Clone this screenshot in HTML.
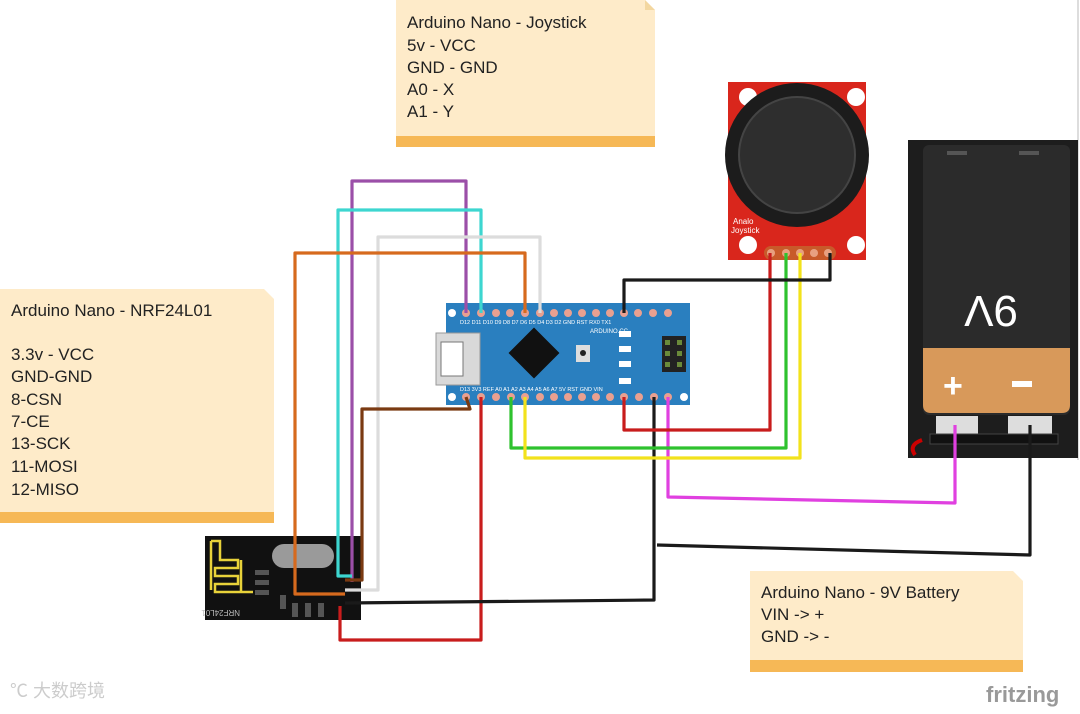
<!DOCTYPE html>
<html><head><meta charset="utf-8"><style>
body{margin:0;background:#fff;width:1080px;height:709px;overflow:hidden}
svg text{font-family:"Liberation Sans","Noto Sans CJK SC",sans-serif}
</style></head><body>
<svg width="1080" height="709" viewBox="0 0 1080 709" xmlns="http://www.w3.org/2000/svg">
<rect width="1080" height="709" fill="#fff"/>
<!-- notes -->
<path d="M396 0 H645 L655 10 V147 H396 Z" fill="#feebc9"/>
<rect x="396" y="136" width="259" height="11" fill="#f6b856"/>
<path d="M645 0 L655 10 H645 Z" fill="#f3d7a0"/>
<g font-size="17" fill="#222">
<text x="407" y="28">Arduino Nano - Joystick</text>
<text x="407" y="51">5v - VCC</text>
<text x="407" y="73">GND - GND</text>
<text x="407" y="95">A0 - X</text>
<text x="407" y="117">A1 - Y</text>
</g>
<path d="M0 289 H264 L274 299 V523 H0 Z" fill="#feebc9"/>
<rect x="0" y="512" width="274" height="11" fill="#f6b856"/>
<g font-size="17" fill="#222">
<text x="11" y="316">Arduino Nano - NRF24L01</text>
<text x="11" y="360">3.3v - VCC</text>
<text x="11" y="382">GND-GND</text>
<text x="11" y="405">8-CSN</text>
<text x="11" y="427">7-CE</text>
<text x="11" y="449">13-SCK</text>
<text x="11" y="472">11-MOSI</text>
<text x="11" y="495">12-MISO</text>
</g>
<path d="M750 571 H1013 L1023 581 V672 H750 Z" fill="#feebc9"/>
<rect x="750" y="660" width="273" height="12" fill="#f6b856"/>
<g font-size="17" fill="#222">
<text x="761" y="598">Arduino Nano - 9V Battery</text>
<text x="761" y="620">VIN -&gt; +</text>
<text x="761" y="642">GND -&gt; -</text>
</g>
<!-- right edge line -->
<line x1="1078" y1="0" x2="1078" y2="460" stroke="#bbb" stroke-width="1"/>
<!-- joystick -->
<rect x="728" y="82" width="138" height="178" fill="#d9261c"/>
<circle cx="748" cy="97" r="9" fill="#fff"/><circle cx="856" cy="97" r="9" fill="#fff"/>
<circle cx="748" cy="245" r="9" fill="#fff"/><circle cx="856" cy="245" r="9" fill="#fff"/>
<circle cx="797" cy="155" r="72" fill="#1c1c1c"/>
<circle cx="797" cy="155" r="58" fill="#2e2e2e" stroke="#444" stroke-width="2"/>
<text x="733" y="224" font-size="8" fill="#fff" font-family="Liberation Mono">Analo</text>
<text x="731" y="233" font-size="8" fill="#fff" font-family="Liberation Mono">Joystick</text>
<rect x="764" y="246" width="72" height="14" rx="7" fill="#c85a2a"/>
<g fill="#e8a080"><circle cx="771" cy="253" r="4"/><circle cx="786" cy="253" r="4"/><circle cx="800" cy="253" r="4"/><circle cx="814" cy="253" r="4"/><circle cx="828" cy="253" r="4"/></g>
<!-- battery -->
<rect x="908" y="140" width="170" height="318" fill="#1d1d1d"/>
<rect x="923" y="145" width="147" height="270" rx="6" fill="#2b2b2b"/>
<rect x="947" y="151" width="20" height="4" fill="#555"/><rect x="1019" y="151" width="20" height="4" fill="#555"/>
<path d="M923 348 H1070 V405 Q1070 413 1062 413 H931 Q923 413 923 405 Z" fill="#d8995a"/>
<text x="0" y="0" font-size="44" fill="#fff" transform="translate(1018 296) rotate(180)">9V</text>
<text x="943" y="397" font-size="34" fill="#fff" font-weight="bold">+</text>
<rect x="1012" y="381" width="20" height="6" fill="#fff"/>
<rect x="936" y="416" width="42" height="18" fill="#ddd"/><rect x="1008" y="416" width="44" height="18" fill="#ddd"/>
<rect x="930" y="434" width="128" height="10" fill="#111" stroke="#444"/>
<path d="M922 440 Q908 445 915 455" stroke="#c00" stroke-width="4" fill="none"/>
<!-- NRF module -->
<rect x="205" y="536" width="156" height="84" fill="#111"/>
<path d="M211 541 V590 M211 541 H220 V560 H238 V568 H215 V576 H238 V584 H215 V592 H253 M241 560 V592" stroke="#e8d23a" stroke-width="2.5" fill="none"/>
<rect x="272" y="544" width="62" height="24" rx="12" fill="#9a9a9a"/>
<g fill="#555"><rect x="255" y="570" width="14" height="5"/><rect x="255" y="580" width="14" height="5"/><rect x="255" y="590" width="14" height="5"/><rect x="280" y="595" width="6" height="14"/><rect x="292" y="603" width="6" height="14"/><rect x="305" y="603" width="6" height="14"/><rect x="318" y="603" width="6" height="14"/></g>
<text x="0" y="0" font-size="8" fill="#bbb" transform="translate(240 610) rotate(180)">NRF24L01</text>
<!-- arduino -->
<rect x="446" y="303" width="244" height="102" fill="#2a7fbf"/>
<rect x="436" y="333" width="44" height="52" fill="#d9d9d9" stroke="#999"/>
<rect x="441" y="342" width="22" height="34" fill="#fff" stroke="#777"/>
<rect x="516" y="335" width="36" height="36" fill="#111" transform="rotate(45 534 353)"/>
<rect x="576" y="345" width="14" height="17" fill="#ddd"/><circle cx="583" cy="353" r="3" fill="#222"/>
<rect x="619" y="331" width="12" height="6" fill="#fff"/><rect x="619" y="346" width="12" height="6" fill="#fff"/><rect x="619" y="361" width="12" height="6" fill="#fff"/><rect x="619" y="378" width="12" height="6" fill="#fff"/>
<rect x="662" y="336" width="24" height="36" fill="#222"/>
<g fill="#6a8a3a"><rect x="665" y="340" width="5" height="5"/><rect x="677" y="340" width="5" height="5"/><rect x="665" y="351" width="5" height="5"/><rect x="677" y="351" width="5" height="5"/><rect x="665" y="362" width="5" height="5"/><rect x="677" y="362" width="5" height="5"/></g>
<text x="590" y="333" font-size="6" fill="#fff">ARDUINO.CC</text>
<circle cx="452" cy="313" r="4" fill="#fff"/><circle cx="452" cy="397" r="4" fill="#fff"/><circle cx="684" cy="397" r="4" fill="#fff"/>
<g fill="#e9a090">
<circle cx="466" cy="313" r="4"/><circle cx="481" cy="313" r="4"/><circle cx="496" cy="313" r="4"/><circle cx="510" cy="313" r="4"/><circle cx="525" cy="313" r="4"/><circle cx="540" cy="313" r="4"/><circle cx="554" cy="313" r="4"/><circle cx="568" cy="313" r="4"/><circle cx="582" cy="313" r="4"/><circle cx="596" cy="313" r="4"/><circle cx="610" cy="313" r="4"/><circle cx="624" cy="313" r="4"/><circle cx="638" cy="313" r="4"/><circle cx="653" cy="313" r="4"/><circle cx="668" cy="313" r="4"/>
<circle cx="466" cy="397" r="4"/><circle cx="481" cy="397" r="4"/><circle cx="496" cy="397" r="4"/><circle cx="511" cy="397" r="4"/><circle cx="525" cy="397" r="4"/><circle cx="540" cy="397" r="4"/><circle cx="554" cy="397" r="4"/><circle cx="568" cy="397" r="4"/><circle cx="582" cy="397" r="4"/><circle cx="596" cy="397" r="4"/><circle cx="610" cy="397" r="4"/><circle cx="624" cy="397" r="4"/><circle cx="639" cy="397" r="4"/><circle cx="654" cy="397" r="4"/><circle cx="668" cy="397" r="4"/>
</g>
<g font-size="5.5" fill="#fff">
<text x="460" y="324">D12 D11 D10 D9 D8 D7 D6 D5 D4 D3 D2 GND RST RX0 TX1</text>
<text x="460" y="391">D13 3V3 REF A0 A1 A2 A3 A4 A5 A6 A7 5V RST GND VIN</text>
</g>
<!-- wires -->
<g fill="none" stroke-width="3.2" stroke-linejoin="round">
<path d="M466 313 V181 H352 V582" stroke="#9b4fa8"/>
<path d="M481 313 V210 H338 V576 H352" stroke="#3dd6d0"/>
<path d="M540 313 V237 H378 V590 H345" stroke="#dcdcdc"/>
<path d="M525 313 V253 H295 V594 H345" stroke="#d66a1e"/>
<path d="M466 397 L470 409 H362 V580 H345" stroke="#7a3a12"/>
<path d="M481 397 V640 H340 V606" stroke="#c81c1c"/>
<path d="M654 397 V600 L345 603" stroke="#1a1a1a"/>
<path d="M657 545 L1030 555 V425" stroke="#1a1a1a"/>
<path d="M668 397 V497 L955 503 V425" stroke="#e040e0"/>
<path d="M624 397 V430 H770 V253" stroke="#c81c1c"/>
<path d="M511 397 V448 H786 V253" stroke="#2ec22e"/>
<path d="M525 397 V458 H800 V253" stroke="#f2e21c"/>
<path d="M624 313 V280 H830 V253" stroke="#1a1a1a"/>
</g>
<!-- logos -->
<text x="986" y="702" font-size="22" fill="#999" font-weight="bold">fritzing</text>
<text x="10" y="697" font-size="18" fill="#ccc">℃ 大数跨境</text>
</svg>
</body></html>
